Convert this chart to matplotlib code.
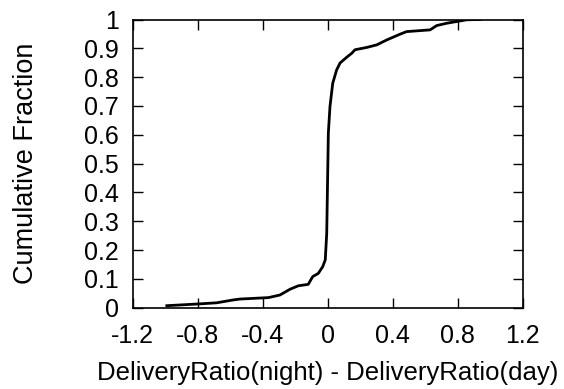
import matplotlib
matplotlib.use("Agg")
import matplotlib.pyplot as plt

diff_values = [-0.99, -0.796, -0.683, -0.581, -0.54, -0.365, -0.294, -0.232, -0.181, -0.12,
               -0.092, -0.058, -0.031, -0.015, -0.006, 0.004, 0.014, 0.031, 0.055, 0.076,
               0.117, 0.148, 0.168, 0.24, 0.302, 0.363, 0.445, 0.486, 0.63, 0.671,
               0.732, 0.794, 0.855, 0.937]
cum_fraction = [0.007, 0.013, 0.017, 0.027, 0.03, 0.035, 0.044, 0.064, 0.076, 0.081,
                0.108, 0.119, 0.142, 0.166, 0.258, 0.606, 0.698, 0.779, 0.825, 0.849,
                0.869, 0.883, 0.895, 0.903, 0.912, 0.929, 0.949, 0.958, 0.964, 0.979,
                0.987, 0.993, 0.999, 1.0]
x_ticks = [-1.2, -0.8, -0.4, 0, 0.4, 0.8, 1.2]
x_tick_labels = ["-1.2", "-0.8", "-0.4", "0", "0.4", "0.8", "1.2"]
y_ticks = [0, 0.1, 0.2, 0.3, 0.4, 0.5, 0.6, 0.7, 0.8, 0.9, 1]
y_tick_labels = ["0", "0.1", "0.2", "0.3", "0.4", "0.5", "0.6", "0.7", "0.8", "0.9", "1"]

plt.rcParams['font.family'] = ['Liberation Sans', 'DejaVu Sans']
fig = plt.figure(figsize=(5.64, 3.89), dpi=100)
ax = fig.add_axes([132.7/564, 1 - 307.7/389, 390/564, 288.2/389])
ax.plot(diff_values, cum_fraction, color='black', linewidth=2)
ax.set_xlim(-1.2, 1.2)
ax.set_ylim(0, 1)
ax.set_xticks(x_ticks)
ax.set_xticklabels(x_tick_labels)
ax.set_yticks(y_ticks)
ax.set_yticklabels(y_tick_labels)
ax.tick_params(direction='in', length=7, width=1, top=True, right=True, labelsize=18)
ax.tick_params(axis='x', pad=12)
ax.tick_params(axis='y', pad=10)
for s in ax.spines.values():
    s.set_linewidth(1.2)
ax.set_xlabel("DeliveryRatio(night) - DeliveryRatio(day)", fontsize=18.5, labelpad=9)
ax.set_ylabel("Cumulative Fraction", fontsize=19.5, labelpad=32)
fig.savefig("out.png", dpi=100)
